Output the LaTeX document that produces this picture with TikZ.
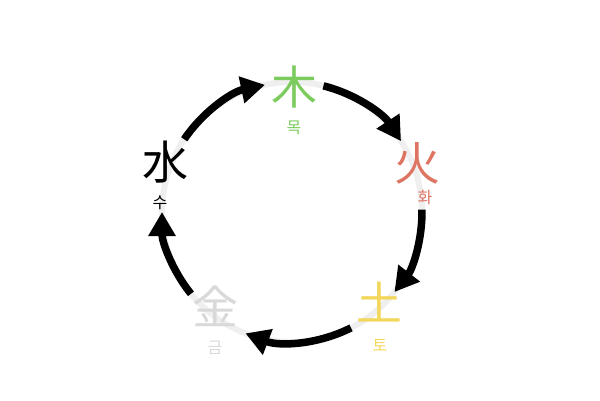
\documentclass[tikz,border=0pt]{standalone}
\usepackage{fontspec}
\newfontfamily\kr{Noto Sans CJK KR}
\usetikzlibrary{arrows.meta}
\definecolor{mokc}{HTML}{7CCB5E}
\definecolor{hwac}{HTML}{DE7563}
\definecolor{toc}{HTML}{F3D65C}
\definecolor{geumc}{HTML}{D9D9D9}
\definecolor{ringc}{HTML}{EFEFEF}
\tikzset{
  big/.style={inner sep=0pt, font=\kr\fontsize{46}{46}\selectfont},
  small/.style={inner sep=0pt, font=\kr\fontsize{16}{16}\selectfont},
  flow/.style={line width=7.5pt, -{Triangle[length=24pt,width=26pt]}},
  ring/.style={line width=6pt, draw=ringc}
}
\begin{document}
\begin{tikzpicture}[x=1pt,y=1pt]
\useasboundingbox (0,0) rectangle (600,400);
\coordinate (c) at (292,188);
\draw[ring] (c) circle[radius=130];
\node[big, text=black] (su) at (165,238) {水};
\node[big, text=mokc] (mok) at (294,313) {木};
\node[big, text=hwac] (hwa) at (417,237) {火};
\node[big, text=toc] (to) at (379,98) {土};
\node[big, text=geumc] (geum) at (215,94) {金};
\node[small, text=black] (sul) at (160,197) {수};
\node[small, text=mokc] (mokl) at (294,272) {목};
\node[small, text=hwac] (hwal) at (425,202) {화};
\node[small, text=toc] (tol) at (380,55) {토};
\node[small, text=geumc] (geuml) at (215,52) {금};
\draw[flow] ([shift={(146:130)}]c) arc[start angle=146, end angle=102, radius=130];
\draw[flow] ([shift={(76:130)}]c) arc[start angle=76, end angle=33, radius=130];
\draw[flow] ([shift={(1:130)}]c) arc[start angle=1, end angle=-38, radius=130];
\draw[flow] ([shift={(-63:130)}]c) arc[start angle=-63, end angle=-111, radius=130];
\draw[flow] ([shift={(-141:130)}]c) arc[start angle=-141, end angle=-180, radius=130];
\end{tikzpicture}
\end{document}
